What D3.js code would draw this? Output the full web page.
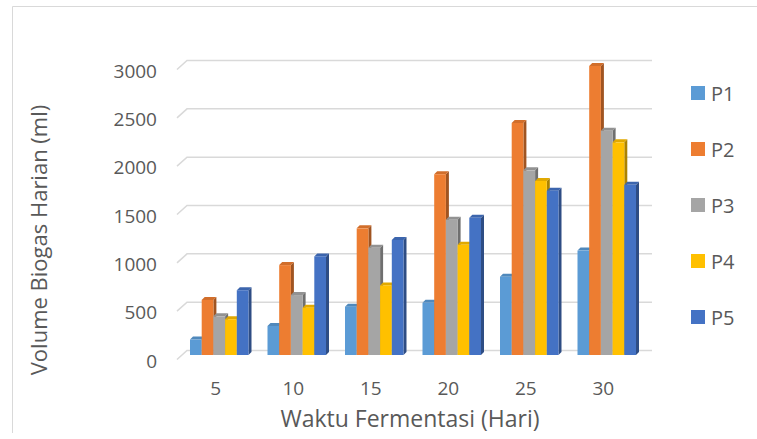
<!DOCTYPE html>
<html>
<head>
<meta charset="utf-8">
<script src="https://cdn.jsdelivr.net/npm/d3@7"></script>
<style>
  html, body { margin: 0; padding: 0; background: #fff; }
  svg { display: block; }
  text { font-family: "Open Sans", sans-serif; fill: #595959; }
</style>
</head>
<body>
<svg id="chart" width="757" height="439"></svg>
<script>
// Daily biogas volume per treatment
const days = ["5", "10", "15", "20", "25", "30"];
const seriesNames = ["P1", "P2", "P3", "P4", "P5"];
const P1 = [160, 300, 500, 540, 810, 1080];
const P2 = [570, 930, 1310, 1870, 2400, 2990];
const P3 = [400, 620, 1110, 1400, 1910, 2320];
const P4 = [370, 490, 720, 1140, 1800, 2200];
const P5 = [670, 1020, 1190, 1420, 1700, 1760];
const yTicks = [0, 500, 1000, 1500, 2000, 2500, 3000];
const colors = ["#5B9BD5", "#ED7D31", "#A5A5A5", "#FFC000", "#4472C4"];

const series = [P1, P2, P3, P4, P5];

const W = 757, H = 439;
const svg = d3.select("#chart");

svg.append("rect").attr("width", W).attr("height", H).attr("fill", "#fff");

// chart frame (only top and left edges fall inside the view)
svg.append("path")
  .attr("d", "M12.5,433 V6.5 H757")
  .attr("fill", "none").attr("stroke", "#d9d9d9").attr("stroke-width", 1);

// 3D projection: back wall, side wall depth and the plane the bars stand on
const depthX = 10, depthY = 9;        // floor depth (front -> back)
const barDx = -6.5, barDy = 4.5;      // bar front plane relative to back wall
const barDepth = 3;                   // bar's own depth

const y = d3.scaleLinear().domain([0, 3000]).range([350.5, 60.5]);
const xBack = d3.scaleBand().domain(days).range([187, 652]);
const xFront = d3.scaleBand().domain(days).range([187 - depthX, 652 - depthX]);
const clusterW = 58.5;
const xInner = d3.scaleBand().domain(seriesNames).range([0, clusterW]);

// gridlines: back wall horizontals plus side-wall diagonals
const grid = svg.append("g").attr("fill", "none").attr("stroke", "#d9d9d9").attr("stroke-width", 1.5);
grid.selectAll("path").data(yTicks).join("path")
  .attr("d", d => {
    const yb = y(d);
    return `M${xBack.range()[0] - depthX},${yb + depthY} L${xBack.range()[0]},${yb} H${xBack.range()[1]}`;
  });

// y tick labels
svg.append("g").selectAll("text").data(yTicks).join("text")
  .attr("x", 157)
  .attr("y", d => y(d) + depthY + 1)
  .attr("text-anchor", "end")
  .attr("dominant-baseline", "central")
  .attr("font-size", 19)
  .text(d => d);

// x tick labels
svg.append("g").selectAll("text").data(days).join("text")
  .attr("x", d => xFront(d) + xFront.bandwidth() / 2)
  .attr("y", 395)
  .attr("text-anchor", "middle")
  .attr("font-size", 19)
  .text(d => d);

// bars: front, top and right side faces
const bars = svg.append("g");
days.forEach((day, i) => {
  const cx = xBack(day) + xBack.bandwidth() / 2 + barDx;
  const left = cx - clusterW / 2;
  seriesNames.forEach((name, s) => {
    const v = series[s][i];
    const base = d3.color(colors[s]);
    const x0 = left + xInner(name);
    const w = xInner.bandwidth();
    const yTop = y(v) + barDy;
    const yBot = y(0) + barDy;
    const g = bars.append("g");
    // side face
    g.append("path")
      .attr("d", `M${x0 + w},${yTop} L${x0 + w + barDepth},${yTop - barDepth} L${x0 + w + barDepth},${yBot - barDepth} L${x0 + w},${yBot} Z`)
      .attr("fill", base.darker(1.1));
    // top face
    g.append("path")
      .attr("d", `M${x0},${yTop} L${x0 + barDepth},${yTop - barDepth} L${x0 + w + barDepth},${yTop - barDepth} L${x0 + w},${yTop} Z`)
      .attr("fill", base.darker(0.35));
    // front face
    g.append("rect")
      .attr("x", x0).attr("y", yTop)
      .attr("width", w).attr("height", yBot - yTop)
      .attr("fill", base);
  });
});

// axis titles
svg.append("text")
  .attr("x", 410).attr("y", 427)
  .attr("text-anchor", "middle")
  .attr("font-size", 23)
  .text("Waktu Fermentasi (Hari)");

svg.append("text")
  .attr("transform", "translate(47,240) rotate(-90)")
  .attr("text-anchor", "middle")
  .attr("font-size", 22)
  .text("Volume Biogas Harian (ml)");

// legend
const legend = svg.append("g").selectAll("g").data(seriesNames).join("g")
  .attr("transform", (d, i) => `translate(691,${93 + i * 56})`);
legend.append("rect")
  .attr("x", 0).attr("y", -7).attr("width", 14).attr("height", 14)
  .attr("fill", (d, i) => colors[i]);
legend.append("text")
  .attr("x", 20).attr("y", 0)
  .attr("dominant-baseline", "central")
  .attr("font-size", 20)
  .text(d => d);
</script>
</body>
</html>
